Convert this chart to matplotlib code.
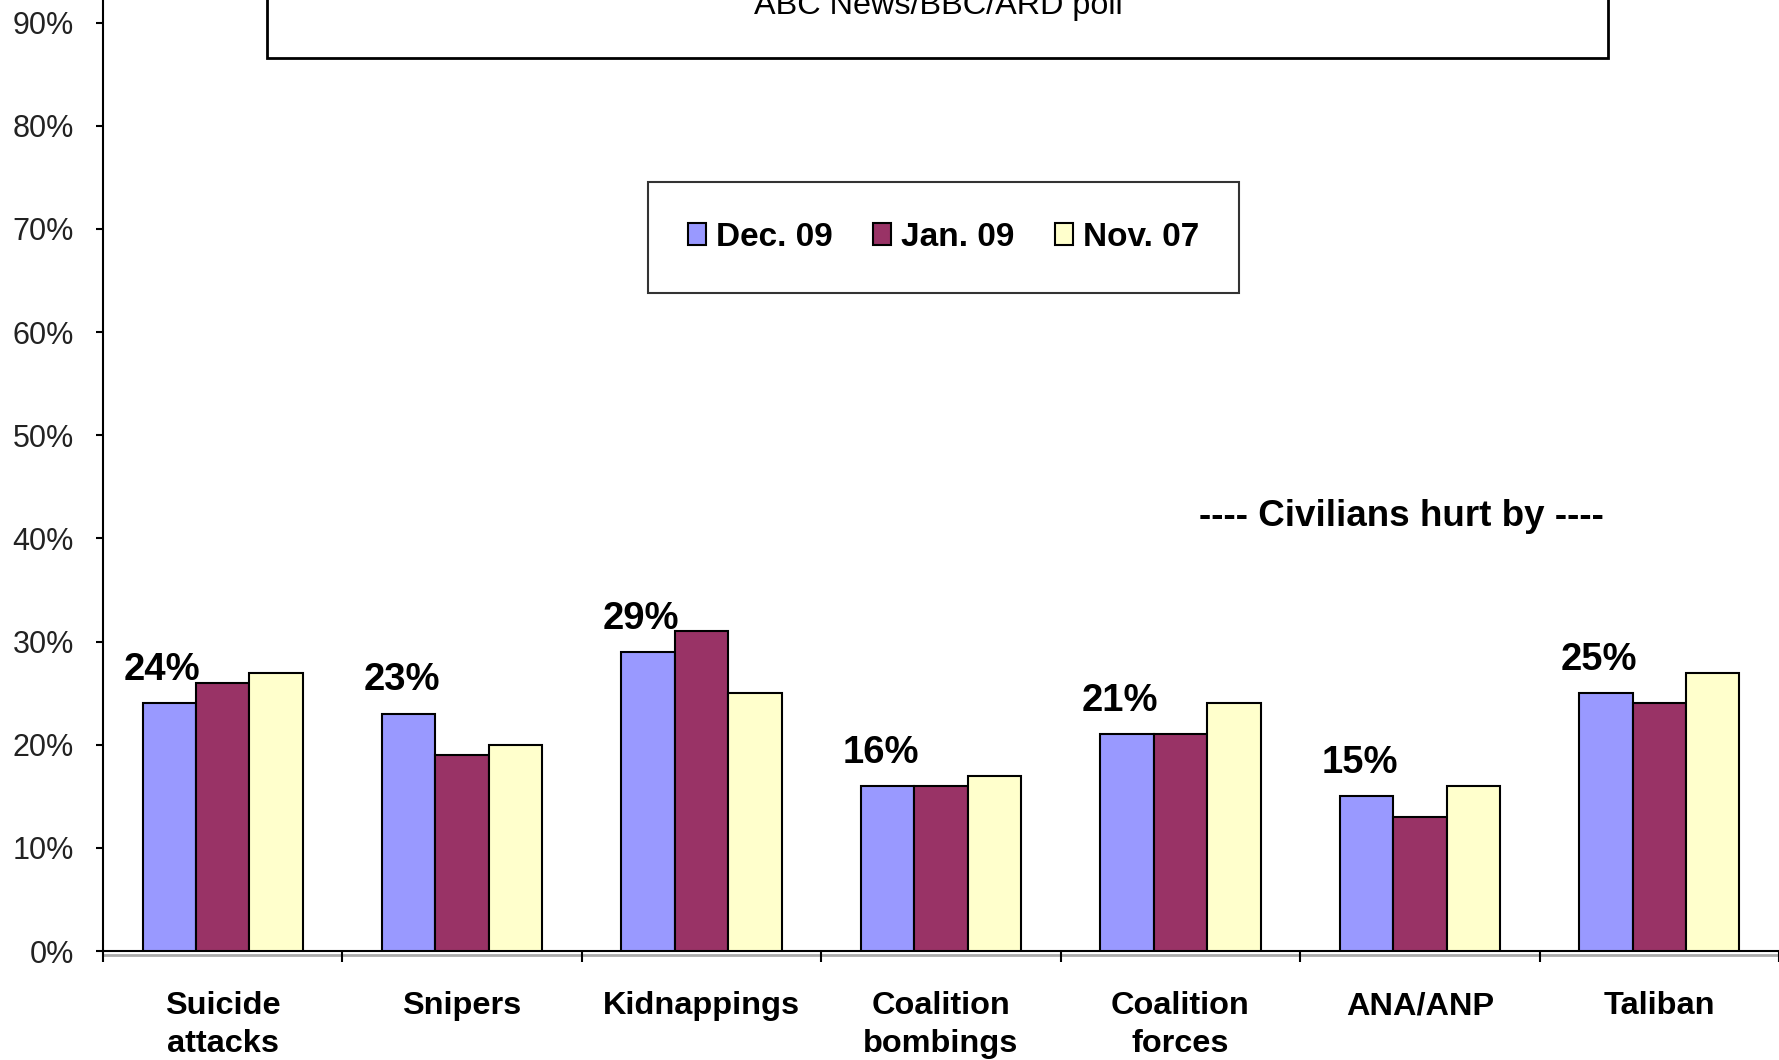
import matplotlib.pyplot as plt
from matplotlib.patches import Rectangle
import numpy as np

plt.rcParams["font.family"] = ["Liberation Sans", "DejaVu Sans"]

categories = ["Suicide\nattacks", "Snipers", "Kidnappings", "Coalition\nbombings",
              "Coalition\nforces", "ANA/ANP", "Taliban"]
series_names = ["Dec. 09", "Jan. 09", "Nov. 07"]
dec_09 = [24, 23, 29, 16, 21, 15, 25]
jan_09 = [26, 19, 31, 16, 21, 13, 24]
nov_07 = [27, 20, 25, 17, 24, 16, 27]
y_ticks = [0, 10, 20, 30, 40, 50, 60, 70, 80, 90]

colors = ["#9999FF", "#993366", "#FFFFCC"]


def main():
    fig = plt.figure(figsize=(17.79, 10.60), dpi=100)
    fig.patch.set_facecolor("white")
    ax = fig.add_axes([0.0579, 0.1028, 0.9421, 0.8972])

    x = np.arange(len(categories))
    w = 0.223
    for i, (vals, name) in enumerate(zip([dec_09, jan_09, nov_07], series_names)):
        ax.bar(x + (i - 1) * w, vals, width=w, color=colors[i], edgecolor="black",
               linewidth=1.5, label=name, zorder=3)

    # value labels above the Dec. 09 bars
    for xi, v in zip(x, dec_09):
        ax.annotate(f"{v}%", (xi - w, v), xytext=(-5, 24), textcoords="offset points",
                    ha="center", va="center", fontsize=27.5, fontweight="bold")

    ax.set_xlim(-0.5, len(categories) - 0.5)
    ax.set_ylim(0, 92.2)
    ax.set_yticks(y_ticks)
    ax.set_yticklabels([f"{t}%" for t in y_ticks], fontsize=22, color="#222222")
    ax.tick_params(axis="y", length=5, width=1.5, pad=16)

    ax.set_xticks(x)
    ax.set_xticklabels(categories, fontsize=23.4, fontweight="bold", linespacing=1.34)
    ax.set_xticks(np.arange(len(categories) + 1) - 0.5, minor=True)
    ax.tick_params(axis="x", which="major", length=0, pad=29)
    ax.tick_params(axis="x", which="minor", length=8, width=1.5)

    for s in ["top", "right"]:
        ax.spines[s].set_visible(False)
    for s in ["left", "bottom"]:
        ax.spines[s].set_linewidth(1.5)
    # light shadow under the category axis
    ax.axhline(-0.35, color="#aaaaaa", linewidth=2, clip_on=False, zorder=1)

    # title box (cut off at the top)
    fig.patches.append(Rectangle((0.1501, 0.9453), 0.7538, 0.1, transform=fig.transFigure,
                                 facecolor="white", edgecolor="black", linewidth=2, zorder=5))
    fig.text(0.5273, 0.9868, "ABC News/BBC/ARD poll", ha="center", va="baseline",
             fontsize=23.3, zorder=6)

    fig.text(0.788, 0.5132, "---- Civilians hurt by ----", ha="center", va="center",
             fontsize=26.5, fontweight="bold")

    leg = fig.legend(loc="center", bbox_to_anchor=(0.5305, 0.776), ncol=3,
                     prop={"size": 24, "weight": "bold"}, frameon=True, fancybox=False,
                     handlelength=0.55, handleheight=0.65, handletextpad=0.3,
                     columnspacing=1.2, borderpad=1.2)
    leg.get_frame().set_edgecolor("black")
    leg.get_frame().set_linewidth(1.5)

    plt.savefig("out.png", facecolor=fig.get_facecolor())


if __name__ == "__main__":
    main()
